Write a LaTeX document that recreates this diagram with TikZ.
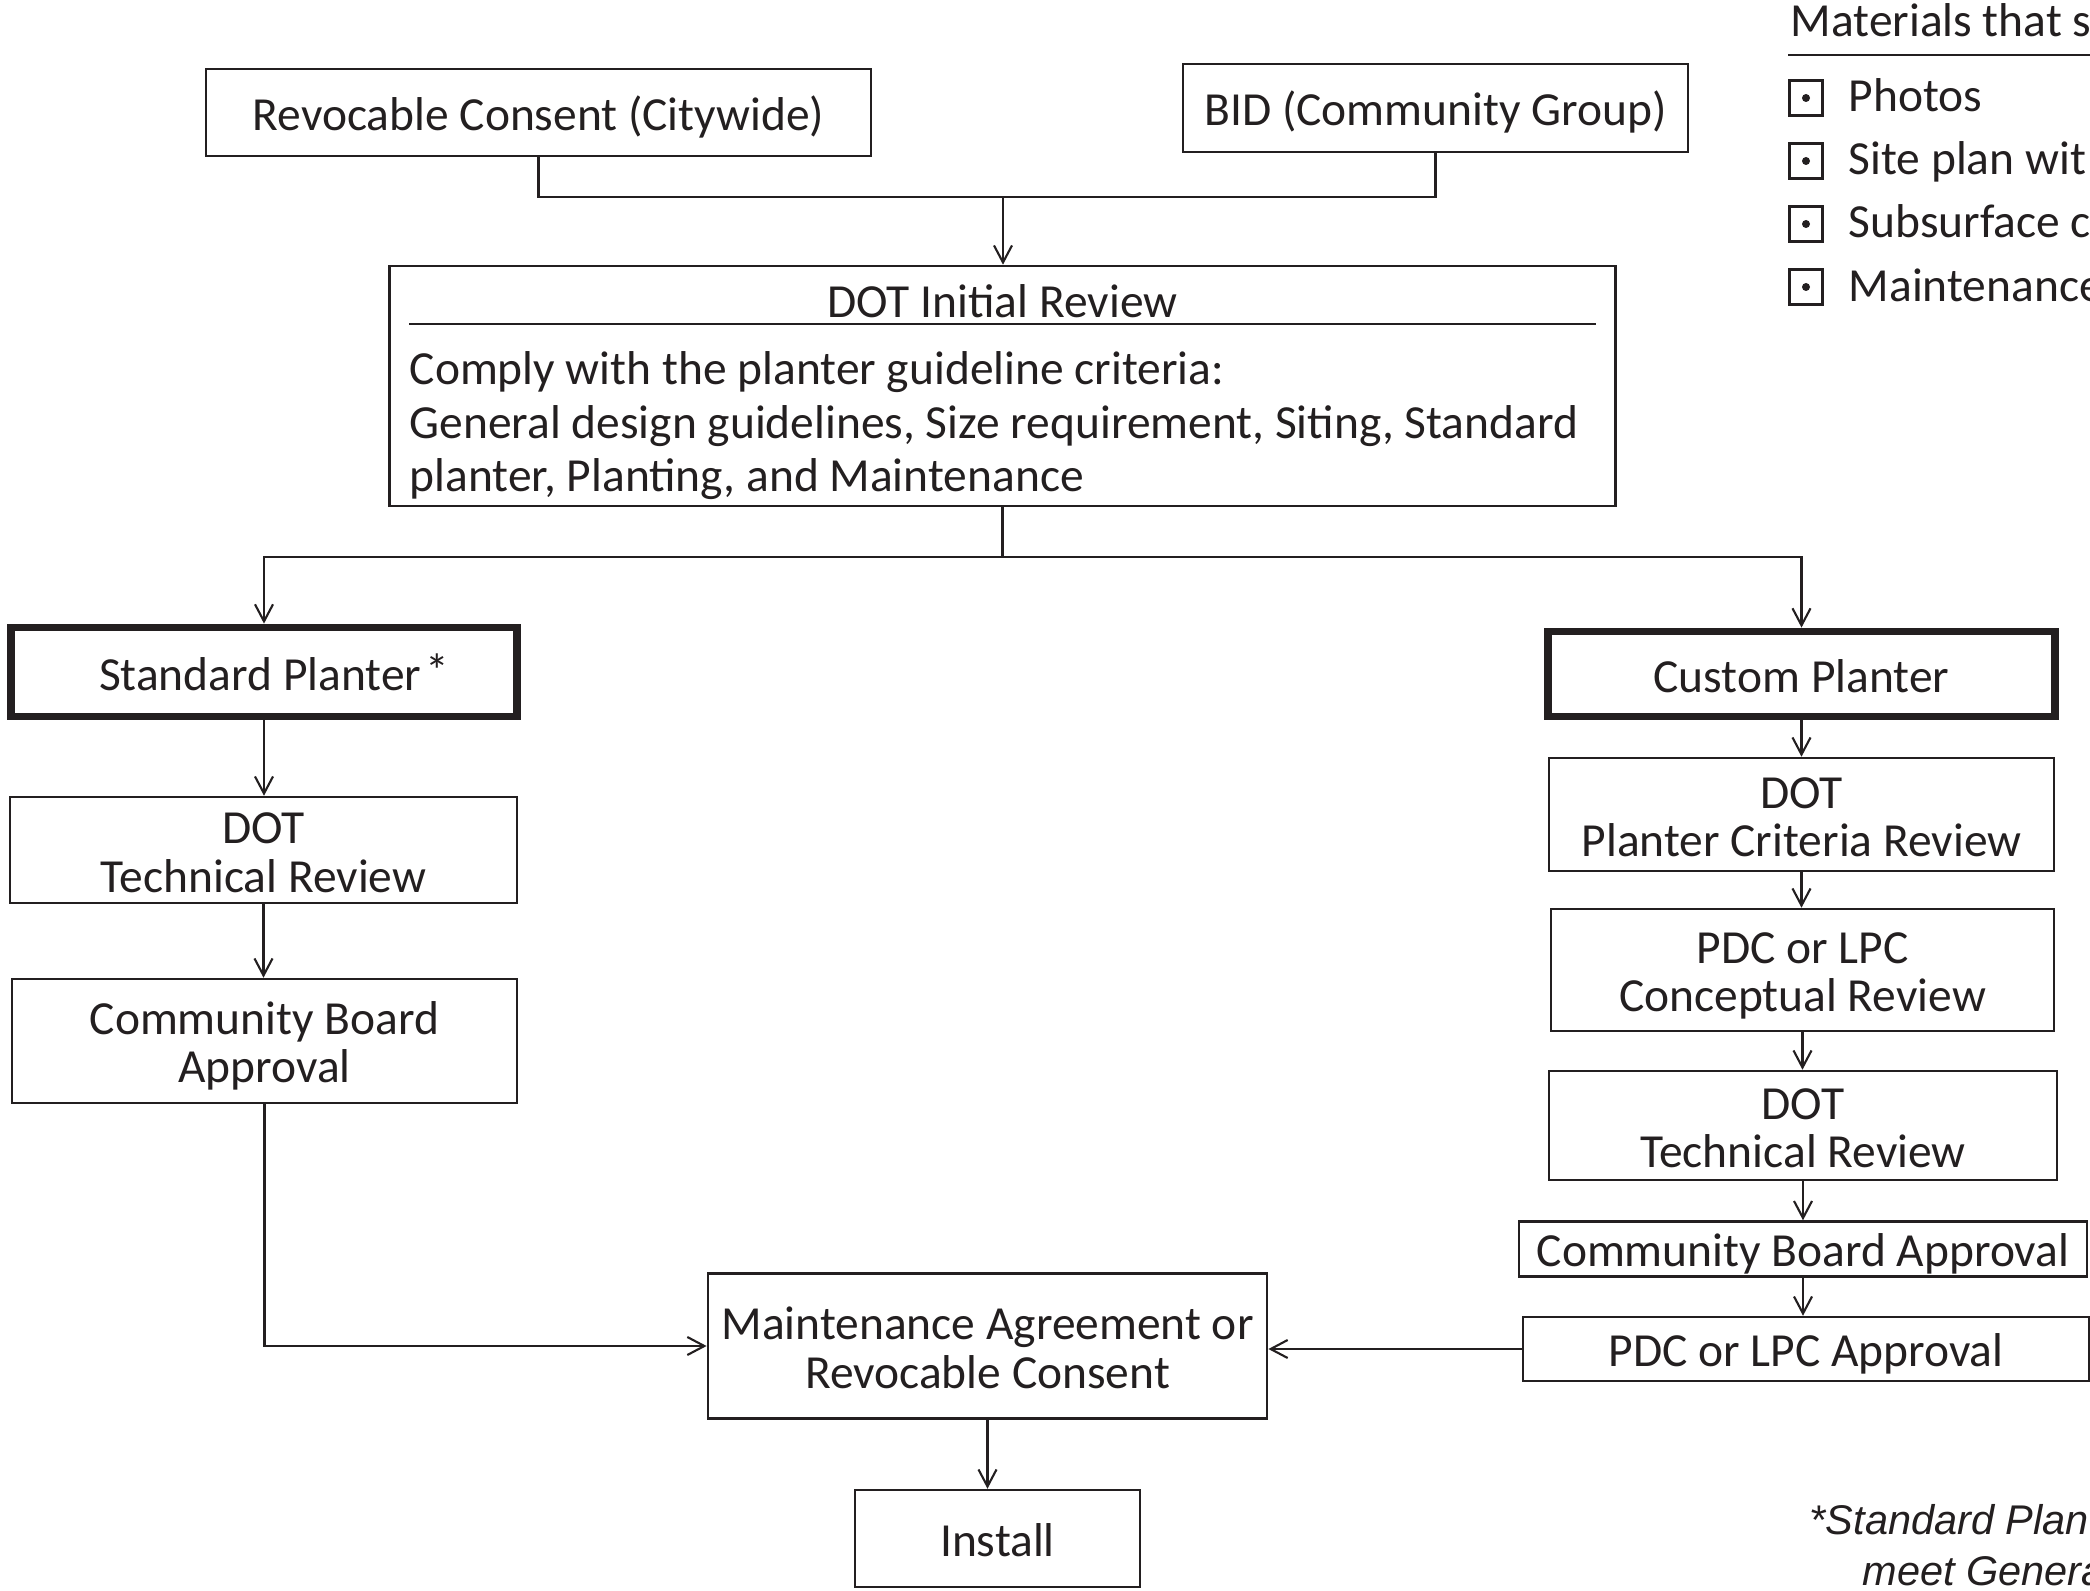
\documentclass[tikz,border=0pt]{standalone}
\usepackage{fontspec}
\setmainfont{Carlito}
\newfontfamily\notefont{Liberation Sans}
\usetikzlibrary{arrows.meta}
\definecolor{ink}{HTML}{231F20}
\newcommand{\tallstrut}{\rule{0pt}{0.91em}}
\tikzset{box/.style={draw=ink, line width=0.7pt, text=ink, inner sep=0pt, align=center,
    font=\fontsize{13.5}{13.7}\selectfont,
    execute at begin node={\tallstrut},
    execute at end node={\rule[-0.15em]{0pt}{0.15em}}},
thickbox/.style={box, line width=2.2pt},
chk/.style={draw=ink, line width=0.6pt, minimum width=0.33cm, minimum height=0.35cm, inner sep=0pt},
arr/.style={draw=ink, line width=0.6pt, -{Straight Barb[length=0.17cm, width=0.18cm]}},
%footnote in the corner
note/.style={text=ink, inner sep=0pt, anchor=base west, font=\notefont\itshape\fontsize{11.8}{12}\selectfont}}

\begin{document}
\begin{tikzpicture}[x=0.01cm, y=-0.01cm]

    \useasboundingbox (0,0) rectangle (2090,1591);
    \clip (0,0) rectangle (2090,1591);

    \node[box, minimum width=6.65cm, minimum height=0.87cm] (rc) at (538.5,112.5) {Revocable Consent (Citywide)};
    \node[box, minimum width=5.05cm, minimum height=0.88cm] (bid) at (1435.5,108) {BID (Community Group)};

    \node[box, minimum width=12.25cm, minimum height=2.4cm] (init) at (1002.5,386) {};
    \node[text=ink, font=\fontsize{13.5}{13.7}\selectfont] (inittitle) at (1002.5,301) {DOT Initial Review};
    \draw[ink, line width=0.7pt] (409,324) -- (1596,324);
    \node[text=ink, inner sep=0pt, anchor=west, align=left, font=\fontsize{13.5}{15.2}\selectfont] (initbody) at (409,426)
        {Comply with the planter guideline criteria:\\
         General design guidelines, Size requirement, Siting, Standard\\
         planter, Planting, and Maintenance};

    \node[thickbox, minimum width=5.05cm, minimum height=0.89cm] (std) at (264,672) {\hspace*{0.2cm}Standard Planter\hspace{0.08em}\raisebox{0.05em}{*}};
    \node[thickbox, minimum width=5.06cm, minimum height=0.85cm] (cust) at (1801.5,674) {Custom Planter};

    \node[box, minimum width=5.07cm, minimum height=1.06cm] (ldot) at (263.5,850) {\tallstrut DOT\\Technical Review};
    \node[box, minimum width=5.05cm, minimum height=1.24cm] (lcb) at (264.5,1041) {\tallstrut Community Board\\Approval};

    \node[box, minimum width=5.05cm, minimum height=1.13cm] (rcrit) at (1801.5,814.5) {\tallstrut DOT\\Planter Criteria Review};
    \node[box, minimum width=5.03cm, minimum height=1.22cm] (rconc) at (1802.5,970) {\tallstrut PDC or LPC\\Conceptual Review};
    \node[box, minimum width=5.08cm, minimum height=1.09cm] (rdot) at (1803,1125.5) {\tallstrut DOT\\Technical Review};
    \node[box, minimum width=5.68cm, minimum height=0.55cm] (rcb) at (1803,1249) {Community Board Approval};
    \node[box, minimum width=5.66cm, minimum height=0.64cm] (rpdc) at (1806,1349) {PDC or LPC Approval};

    \node[box, minimum width=5.59cm, minimum height=1.45cm] (maint) at (987.5,1346) {\tallstrut Maintenance Agreement or\\Revocable Consent};
    \node[box, minimum width=2.85cm, minimum height=0.97cm] (install) at (997.5,1538.5) {Install};

    % top joins
    \coordinate (tj) at (1003,197);
    \coordinate (mj) at (1002.5,557);
    \draw[ink, line width=0.6pt] (rc.south) |- (tj) -| (bid.south);
    \draw[arr] (tj) -- (tj |- init.north);
    \draw[ink, line width=0.6pt] (init.south) -- (mj);
    \draw[arr] (mj) -| (std.north);
    \draw[arr] (mj) -| (cust.north);

    \foreach \a/\b in {std/ldot, ldot/lcb, cust/rcrit, rcrit/rconc, rconc/rdot, rdot/rcb, rcb/rpdc}
        \draw[arr] (\a.south) -- (\a.south |- \b.north);

    \draw[arr] (lcb.south) |- (maint.west);
    \draw[arr] (rpdc.west) -- (maint.east |- rpdc.west);
    \draw[arr] (maint.south) -- (maint.south |- install.north);

    % materials list
    \node[text=ink, inner sep=0pt, anchor=base west, font=\fontsize{13.5}{13.7}\selectfont] (mattitle) at (1790,37) {Materials that s};
    \draw[ink, line width=0.6pt] (1788,55) -- (2090,55);
    \foreach \y/\t [count=\i] in {98/Photos, 161/Site plan wit, 224/Subsurface c, 287/Maintenance}{
        \node[chk] (chk\i) at (1806,\y) {};
        \fill[ink] (chk\i) circle (4);
        \node[text=ink, inner sep=0pt, anchor=base west, font=\fontsize{13.5}{13.7}\selectfont] (item\i) at (1848,\y+14) {\t};
    }

    \node[note] (note1) at (1809,1534) {*Standard Plan};
    \node[note] (note2) at (1862,1585) {meet Genera};

\end{tikzpicture}
\end{document}
